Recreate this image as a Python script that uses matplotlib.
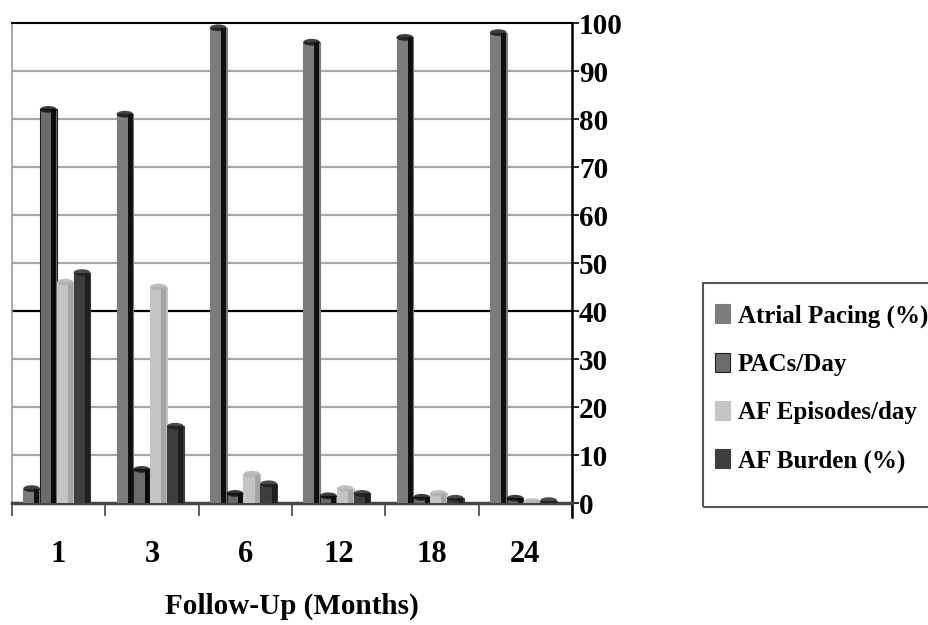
import matplotlib as mpl
mpl.use('Agg')
import matplotlib.pyplot as plt
from matplotlib.patches import Ellipse, Rectangle
import numpy as np

plt.rcParams['font.family'] = ['Liberation Serif', 'DejaVu Serif']
plt.rcParams['font.weight'] = 'bold'

# data
months = ['1', '3', '6', '12', '18', '24']
atrial_pacing = [3, 81, 99, 96, 97, 98]
pacs_day = [82, 7, 2, 1.5, 1.2, 1]
af_episodes = [46, 45, 6, 3, 2, 0.3]
af_burden = [48, 16, 4, 2, 1, 0.5]

series = [
    ('Atrial Pacing (%)', atrial_pacing, '#7c7c7c', '#111111', '#7c7c7c'),
    ('PACs/Day', pacs_day, '#6c6c6c', '#0a0a0a', '#222222'),
    ('AF Episodes/day', af_episodes, '#c4c4c4', '#a4a4a4', '#c4c4c4'),
    ('AF Burden (%)', af_burden, '#3e3e3e', '#1e1e1e', '#3e3e3e'),
]

fig = plt.figure(figsize=(9.29, 6.25), dpi=100)
ax = fig.add_axes([12/929, 1-503/625, 560/929, 480/625])

x = np.arange(len(months))
w = 0.18
for i, (name, vals, face, shade, edge) in enumerate(series):
    xs = x + (i - 1.5) * w - 0.02
    ax.bar(xs, vals, width=w, color=face, edgecolor=edge, linewidth=0.8,
           label=name, zorder=3)
    # dark right side to fake the cylinder shading
    ax.bar(xs + w * 0.32, vals, width=w * 0.3, color=shade, linewidth=0, zorder=3)
    for xx, v in zip(xs, vals):
        ax.add_patch(Ellipse((xx, v), w, 1.4, facecolor=shade if i != 2 else '#b0b0b0',
                             edgecolor='none', alpha=0.8, zorder=4))

ax.set_xlim(-0.5, 5.5)
ax.set_ylim(0, 100)

# gridlines
for g in range(10, 100, 10):
    ax.axhline(g, color='black' if g == 40 else '#a8a8a8', lw=1.6, zorder=1)

ax.yaxis.tick_right()
ax.set_yticks(range(0, 101, 10))
ax.tick_params(axis='y', direction='out', length=5, width=1.2, pad=0, labelsize=21)

ax.set_xticks(x)
ax.set_xticklabels(months)
ax.set_xticks(np.arange(-0.5, 6, 1), minor=True)
ax.tick_params(axis='x', which='major', length=0, pad=27, labelsize=22)
ax.tick_params(axis='x', which='minor', length=9, width=1.2, color='#444444')

ax.spines['left'].set_color('#999999')
ax.spines['left'].set_linewidth(1.2)
ax.spines['top'].set_linewidth(1.5)
ax.spines['right'].set_linewidth(1.8)
ax.spines['right'].set_bounds(-3, 100)
ax.spines['bottom'].set_linewidth(2.5)
ax.spines['bottom'].set_color('#444444')

ax.set_xlabel('Follow-Up (Months)', fontsize=21, fontweight='bold', labelpad=17)

leg = fig.legend(loc='upper left', bbox_to_anchor=(715/929, 1-304/625),
                 fontsize=18, frameon=False, borderaxespad=0, borderpad=0,
                 handlelength=0.6, handleheight=0.8, handletextpad=0.3,
                 labelspacing=1.0)
fig.patches.append(Rectangle((703/929, 1-507/625), 240/929, 224/625,
                             transform=fig.transFigure, fill=False,
                             edgecolor='#555555', lw=1.5))

fig.savefig('out.png', dpi=100)
